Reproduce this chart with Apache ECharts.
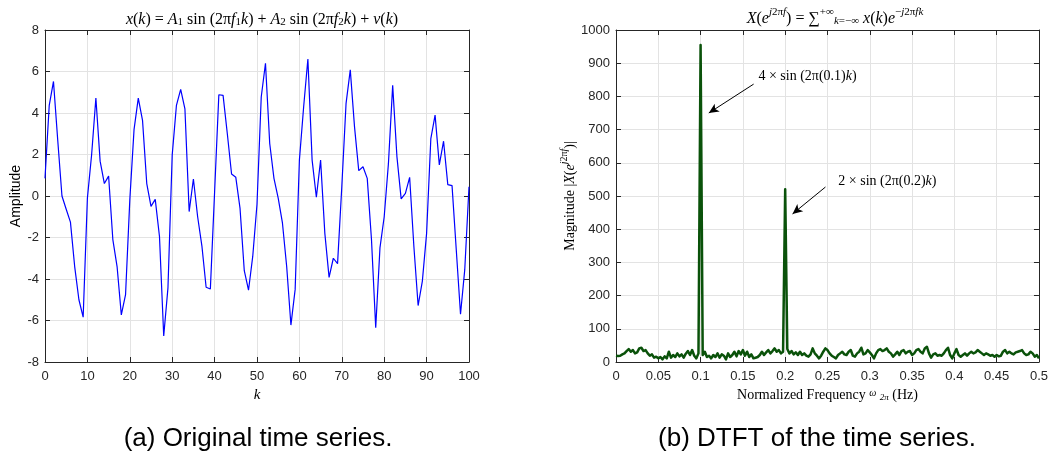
<!DOCTYPE html>
<html>
<head>
<meta charset="utf-8">
<script src="https://cdn.jsdelivr.net/npm/echarts@6/dist/echarts.min.js"></script>
<style>
html,body{margin:0;padding:0;background:#fff;}
#c{width:1051px;height:454px;}
</style>
</head>
<body>
<div id="c"></div>
<script>
// ---- data ----
var kValues = [];
for (var n = 0; n <= 100; n++) kValues.push(n);
var timeSeries = [0.85,4.37,5.52,2.7,0.0,-0.64,-1.26,-3.4,-5.0,-5.84,
  -0.1,2.0,4.72,1.68,0.6,0.96,-2.1,-3.4,-5.73,-4.75,
  -0.2,3.2,4.72,3.65,0.6,-0.5,-0.16,-1.95,-6.75,-4.43,
  1.97,4.37,5.14,4.2,-0.75,0.82,-1.0,-2.4,-4.4,-4.48,
  0.2,4.88,4.85,3.0,1.06,0.9,-0.6,-3.6,-4.54,-2.9,
  -0.4,4.77,6.4,2.53,0.85,-0.1,-1.3,-3.4,-6.22,-4.5,
  1.73,4.29,6.6,1.73,-0.06,1.73,-1.8,-3.92,-3.0,-3.26,
  0.45,4.45,6.08,3.33,1.22,1.41,0.85,-2.1,-6.35,-2.5,
  -1.0,1.57,5.33,1.9,-0.14,0.13,0.9,-2.43,-5.28,-4.1,
  -1.8,2.77,3.9,1.5,2.64,0.55,0.5,-2.6,-5.7,-3.55,
  0.45];
var freqStep = 0.0025;
var dtftMag = [19,18,19,23,26,33,39,31,36,26,29,41,43,33,36,26,19,23,13,16,11,15,8,17,11,31,13,21,15,26,17,23,13,25,33,21,36,19,11,26,
  955,
  21,31,15,19,11,21,15,26,13,23,19,8,26,15,21,31,17,33,23,36,19,31,15,23,11,13,15,21,31,21,29,36,26,33,41,31,36,26,31,
  520,
  39,26,33,23,29,21,31,21,26,19,16,23,41,26,19,11,19,31,41,36,26,19,15,11,21,26,31,23,21,31,36,19,16,26,31,43,23,26,36,29,21,11,26,36,39,33,36,41,31,26,16,23,31,21,
  33,36,26,31,33,21,26,36,39,31,26,41,46,26,13,23,26,19,21,19,26,36,43,21,11,26,39,21,16,21,26,19,26,31,26,29,36,31,26,21,26,23,19,21,16,21,17,19,31,36,26,31,26,23,29,31,33,36,26,21,23,31,26,16,21,11];
var leftXTicks = [0,10,20,30,40,50,60,70,80,90,100];
var rightXTicks = ['0','0.05','0.1','0.15','0.2','0.25','0.3','0.35','0.4','0.45','0.5'];
// annotation anchors (data coordinates)
var ann1 = {text:[0.2264, 870], from:[0.1627, 837], to:[0.1097, 750]};
var ann2 = {text:[0.3208, 554], from:[0.2476, 527], to:[0.2087, 446]};

// ---- build ----
var leftData = kValues.map(function(k,i){return [k, timeSeries[i]];});
var rightData = dtftMag.map(function(v,i){return [+(i*freqStep).toFixed(4), v];});

var AX = '#262626', GRID = '#e3e3e3';
var SANS = '"Liberation Sans", Arial, sans-serif';
var MATH = '"Liberation Serif", "DejaVu Serif", serif';

function mathRich(sz){
  function st(o){ o.fontFamily=MATH; o.color='#000'; o.fontWeight='normal'; return o; }
  return {
    r:st({fontSize:sz,lineHeight:20,verticalAlign:'bottom'}),
    i:st({fontSize:sz,fontStyle:'italic',lineHeight:20,verticalAlign:'bottom'}),
    s:st({fontSize:sz-5,fontStyle:'italic',lineHeight:12,verticalAlign:'bottom'}),
    sr:st({fontSize:sz-5,lineHeight:12,verticalAlign:'bottom'}),
    p:st({fontSize:sz-5,fontStyle:'italic',lineHeight:12,verticalAlign:'top'}),
    pr:st({fontSize:sz-5,lineHeight:12,verticalAlign:'top'})
  };
}

function axisCommon(){
  return {
    axisLine:{show:true,onZero:false,lineStyle:{color:AX,width:1}},
    axisTick:{show:true,inside:true,length:5,lineStyle:{color:AX}},
    splitLine:{show:true,lineStyle:{color:GRID,width:1}},
    axisLabel:{color:AX,fontFamily:SANS,fontSize:13}
  };
}
function mk(base){ var o = axisCommon(); for (var b in base) o[b]=base[b]; return o; }

var chart = echarts.init(document.getElementById('c'), null, {renderer:'canvas'});
var option = {
  animation:false,
  backgroundColor:'#fff',
  title:[
    {text:'{i|x}{r|(}{i|k}{r|) = }{i|A}{sr|1}{r| sin (2π}{i|f}{sr|1}{i|k}{r|) + }{i|A}{sr|2}{r| sin (2π}{i|f}{sr|2}{i|k}{r|) + }{i|ν}{r|(}{i|k}{r|)}',
     left:257, top:3, textAlign:'center', textStyle:{fontWeight:'normal',rich:mathRich(16)}},
    {text:'{i|X}{r|(}{i|e}{p|j}{pr|2π}{p|f}{r|) = }{r|∑}{pr|+∞}{s|k}{sr|=−∞}{r| }{i|x}{r|(}{i|k}{r|)}{i|e}{pr|−}{p|j}{pr|2π}{p|fk}',
     left:830, top:2, textAlign:'center', textStyle:{fontWeight:'normal',rich:mathRich(16)}},
    {text:'(a) Original time series.', left:253, top:421, textAlign:'center',
     textStyle:{fontFamily:SANS,fontSize:26,fontWeight:'normal',color:'#000'}},
    {text:'(b) DTFT of the time series.', left:812, top:421, textAlign:'center',
     textStyle:{fontFamily:SANS,fontSize:26,fontWeight:'normal',color:'#000'}}
  ],
  grid:[
    {left:45, right:582, top:30, bottom:92, containLabel:false},
    {left:616, right:11, top:30, bottom:92, containLabel:false}
  ],
  xAxis:[
    mk({gridIndex:0,type:'value',min:0,max:100,interval:10,position:'bottom',
        name:'k', nameLocation:'middle', nameGap:22,
        nameTextStyle:{fontFamily:MATH,fontStyle:'italic',fontSize:15,color:'#000'},
        axisLabel:{color:AX,fontFamily:SANS,fontSize:13,margin:8,formatter:function(v){return leftXTicks.indexOf(v)>=0?String(v):'';}}}),
    mk({gridIndex:0,type:'value',min:0,max:100,interval:10,position:'top',axisLabel:{show:false},splitLine:{show:false}}),
    mk({gridIndex:1,type:'value',min:0,max:0.5,interval:0.05,position:'bottom',
        name:'{r|Normalized Frequency }{f|ω}{r| }{g|2π}{r| (Hz)}', nameLocation:'middle', nameGap:22,
        nameTextStyle:{rich:{
          r:{fontFamily:MATH,fontSize:14,color:'#000'},
          f:{fontFamily:MATH,fontSize:10,fontStyle:'italic',color:'#000',verticalAlign:'top',lineHeight:8},
          g:{fontFamily:MATH,fontSize:9,fontStyle:'italic',color:'#000',verticalAlign:'bottom',lineHeight:8}
        }},
        axisLabel:{color:AX,fontFamily:SANS,fontSize:13,margin:8,formatter:function(v){return rightXTicks[Math.round(v/0.05)];}}}),
    mk({gridIndex:1,type:'value',min:0,max:0.5,interval:0.05,position:'top',axisLabel:{show:false},splitLine:{show:false}})
  ],
  yAxis:[
    mk({gridIndex:0,type:'value',min:-8,max:8,interval:2,position:'left',
        name:'Amplitude', nameLocation:'middle', nameGap:19,
        nameTextStyle:{fontFamily:SANS,fontSize:14,color:'#000'},
        axisLabel:{color:AX,fontFamily:SANS,fontSize:13,margin:6}}),
    mk({gridIndex:0,type:'value',min:-8,max:8,interval:2,position:'right',axisLabel:{show:false},splitLine:{show:false}}),
    mk({gridIndex:1,type:'value',min:0,max:1000,interval:100,position:'left',
        name:'{r|Magnitude |}{i|X}{r|(}{i|e}{p|j}{pr|2π}{p|f}{r|)|}', nameLocation:'middle', nameGap:37,
        nameTextStyle:{rich:{
          r:{fontFamily:MATH,fontSize:14,color:'#000',lineHeight:18,verticalAlign:'bottom'},
          i:{fontFamily:MATH,fontSize:14,fontStyle:'italic',color:'#000',lineHeight:18,verticalAlign:'bottom'},
          p:{fontFamily:MATH,fontSize:10,fontStyle:'italic',color:'#000',lineHeight:11,verticalAlign:'top'},
          pr:{fontFamily:MATH,fontSize:10,color:'#000',lineHeight:11,verticalAlign:'top'}
        }},
        axisLabel:{color:AX,fontFamily:SANS,fontSize:13,margin:6,formatter:function(v){return String(v);}}}),
    mk({gridIndex:1,type:'value',min:0,max:1000,interval:100,position:'right',axisLabel:{show:false},splitLine:{show:false}})
  ],
  series:[
    {type:'line',xAxisIndex:0,yAxisIndex:0,data:leftData,showSymbol:false,symbol:'none',
     lineStyle:{color:'#0000ff',width:1.2},z:5},
    {type:'line',xAxisIndex:2,yAxisIndex:2,data:rightData,showSymbol:false,symbol:'none',
     lineStyle:{color:'#0a520a',width:2.5,join:'round'},z:5,
     markLine:{silent:true,symbol:['none','arrow'],symbolSize:[7,10],
       lineStyle:{color:'#000',width:1,type:'solid'},label:{show:false},
       data:[
         [{coord:ann1.from},{coord:ann1.to}],
         [{coord:ann2.from},{coord:ann2.to}]
       ]},
     markPoint:{silent:true,symbol:'circle',symbolSize:0,
       data:[
         {coord:ann1.text, label:{show:true,position:'inside',formatter:'{r|4 × sin (2π(0.1)}{i|k}{r|)}',rich:mathRich(14)}},
         {coord:ann2.text, label:{show:true,position:'inside',formatter:'{r|2 × sin (2π(0.2)}{i|k}{r|)}',rich:mathRich(14)}}
       ]}
    }
  ]
};
chart.setOption(option);
</script>
</body>
</html>
